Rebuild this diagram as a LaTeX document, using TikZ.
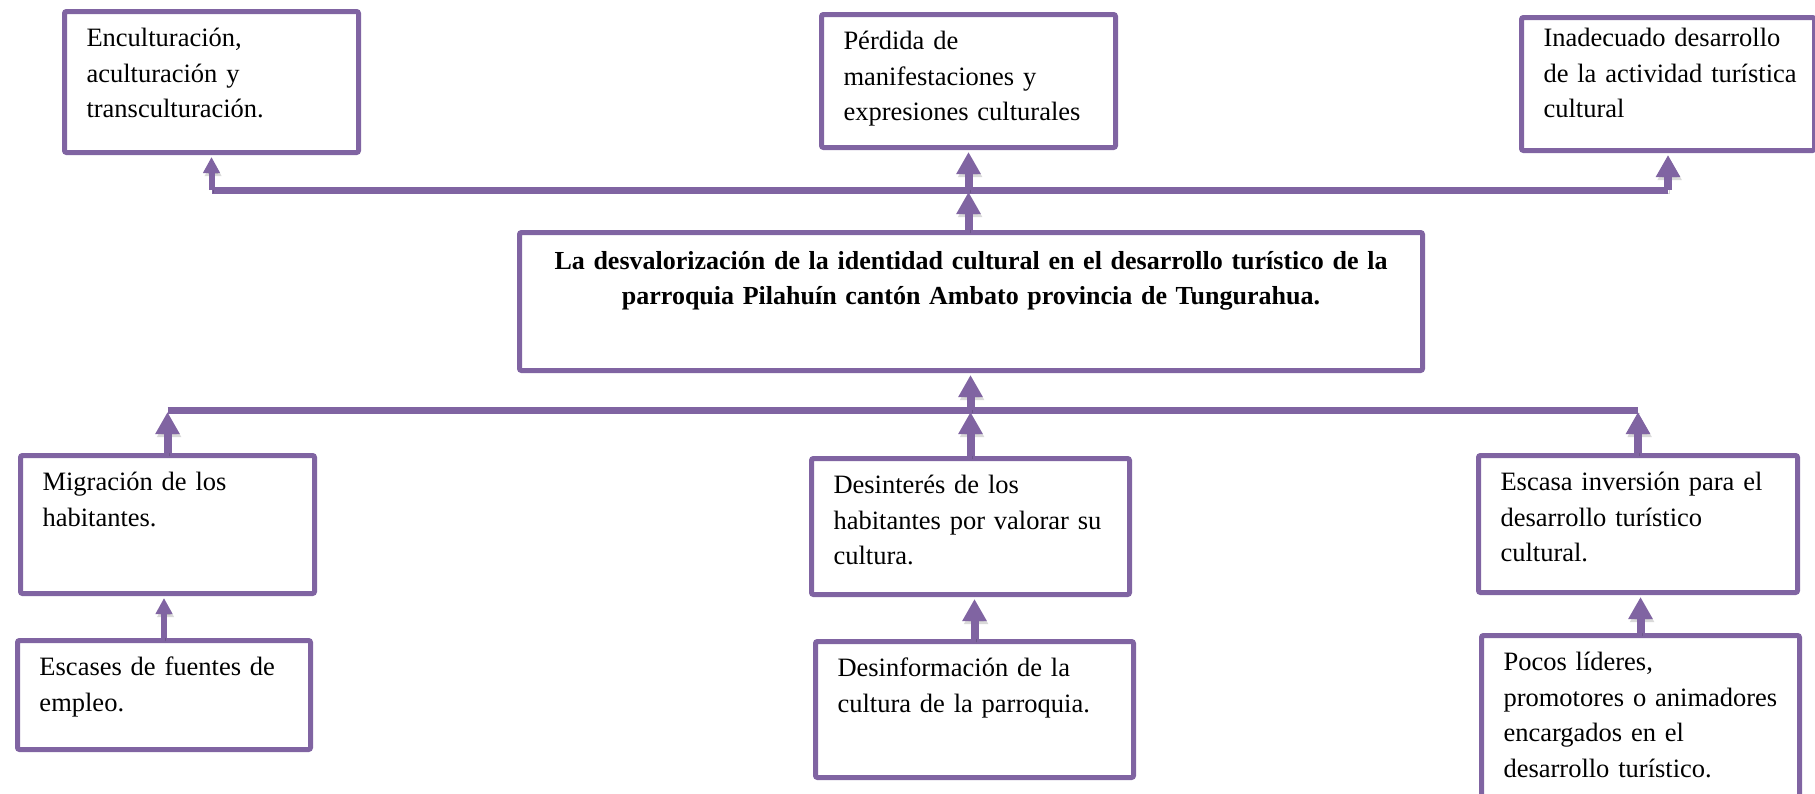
\documentclass[tikz,border=0pt]{standalone}
\usepackage{fontspec}
\setmainfont{Liberation Serif}
\usetikzlibrary{arrows.meta}
\definecolor{morado}{HTML}{8064A2}

\begin{document}
\begin{tikzpicture}[
    x=0.5pt, y=-0.5pt,
    sombra/.style={preaction={draw=black, opacity=0.15,
        transform canvas={shift={(0.8pt,-1.6pt)}}}},
    caja/.style={rectangle, draw=morado, line width=2.5pt, rounded corners=1pt,
        anchor=north west, align=left, inner xsep=11pt, inner ysep=0pt,
        text height=17.5pt, font=\fontsize{13.25}{17.8}\selectfont},
    problema/.style={caja, align=center, inner xsep=11pt,
        font=\bfseries\fontsize{13}{17.6}\selectfont},
    barra/.style={draw=morado, line width=3.5pt, sombra},
    flecha/.style={draw=morado, line width=4pt, shorten >=1pt,
        -{Triangle[width=11.5pt, length=11pt]}, sombra},
    flechita/.style={draw=morado, line width=3pt, shorten >=1pt,
        -{Triangle[width=8pt, length=8pt]}, sombra}
]
\useasboundingbox (0,0) rectangle (1815,793);

% efectos
\node (Efecto01) [caja, text width=125pt, text depth=53pt] at (62,9)
  {Enculturación,\\aculturación y\\transculturación.};
\node (Efecto02) [caja, text width=125pt, text depth=49pt] at (819,12)
  {Pérdida de\\manifestaciones y\\expresiones culturales};
\node (Efecto03) [caja, inner xsep=8pt, text width=130.5pt, text height=14.5pt, text depth=52pt] at (1519,15)
  {\hspace*{3pt}Inadecuado desarrollo\\\hspace*{3pt}de la actividad turística\\\hspace*{3pt}cultural};

% problema central
\node (Problema) [problema, text width=429.5pt, text height=18.5pt, text depth=50.5pt] at (517,230)
  {La desvalorización de la identidad cultural en el desarrollo turístico de la\\
   parroquia Pilahuín cantón Ambato provincia de Tungurahua.};

% causas
\node (Causa01) [caja, text width=125pt, text depth=51.5pt] at (18,453)
  {Migración de los\\habitantes.};
\node (Causa02) [caja, text width=137pt, text depth=50.5pt] at (809,456)
  {Desinterés de los\\habitantes por valorar su\\cultura.};
\node (Causa03) [caja, text width=137.5pt, text depth=51pt] at (1476,453)
  {Escasa inversión para el\\desarrollo turístico\\cultural.};

% subcausas
\node (Subcausa01) [caja, text width=124.5pt, text depth=37pt] at (15,638)
  {Escases de fuentes de\\empleo.};
\node (Subcausa02) [caja, text width=137pt, text depth=50.5pt] at (813,639)
  {Desinformación de la\\cultura de la parroquia.};
\node (Subcausa03) [caja, text width=137pt, text depth=72.5pt] at (1479,633)
  {Pocos líderes,\\promotores o animadores\\encargados en el\\desarrollo turístico.};

\coordinate (BarraSup) at (0,190);
\coordinate (BarraInf) at (0,410);

% conectores de arriba
\draw[barra] (Efecto01.south |- BarraSup) -- (Efecto03.south |- BarraSup);
\draw[flecha] (Problema.north -| Efecto02.south) -- (Efecto02.south |- BarraSup);
\draw[flecha] (Efecto02.south |- BarraSup) -- (Efecto02.south);
\draw[flechita] (Efecto01.south |- BarraSup) -- (Efecto01.south);
\draw[flecha] (Efecto03.south |- BarraSup) -- (Efecto03.south);

% conectores de abajo
\draw[barra] (Causa01.north |- BarraInf) -- (Causa03.north |- BarraInf);
\draw[flecha] (Causa01.north) -- (Causa01.north |- BarraInf);
\draw[flecha] (Causa02.north) -- (Causa02.north |- BarraInf);
\draw[flecha] (Causa03.north) -- (Causa03.north |- BarraInf);
\draw[flecha] (Causa02.north |- BarraInf) -- (Problema.south -| Causa02.north);
\draw[flechita] (Subcausa01.north) -- (Causa01.south -| Subcausa01.north);
\draw[flecha] (Subcausa02.north) -- (Causa02.south -| Subcausa02.north);
\draw[flecha] (Subcausa03.north) -- (Causa03.south -| Subcausa03.north);

\end{tikzpicture}
\end{document}
